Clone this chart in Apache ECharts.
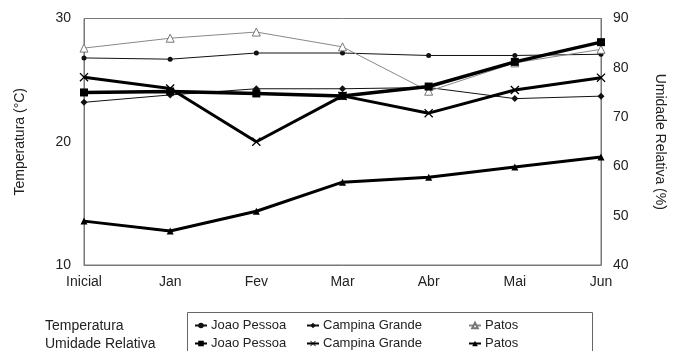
<!DOCTYPE html>
<html><head><meta charset="utf-8">
<script src="https://cdn.jsdelivr.net/npm/echarts@6/dist/echarts.min.js"></script>
<style>html,body{margin:0;padding:0;background:#fff}#c{width:675px;height:351px}</style>
</head><body><div id="c"></div>
<script>
const categories = ['Inicial','Jan','Fev','Mar','Abr','Mai','Jun'];
const tempJoaoPessoa = [26.8, 26.7, 27.2, 27.2, 27.0, 27.0, 27.1];
const tempCampinaGrande = [23.2, 23.8, 24.3, 24.3, 24.4, 23.5, 23.7];
const tempPatos = [27.6, 28.4, 28.9, 27.7, 24.1, 26.4, 27.5];
const umidJoaoPessoa = [75.0, 75.2, 74.8, 74.3, 76.2, 81.2, 85.2];
const umidCampinaGrande = [78.1, 75.8, 65.0, 74.3, 70.8, 75.5, 78.0];
const umidPatos = [48.9, 46.9, 50.9, 56.8, 57.8, 59.9, 61.9];
const tempTicks = [10, 20, 30];
const umidTicks = [40, 50, 60, 70, 80, 90];

const font = 'Liberation Sans, Arial, sans-serif';
const txt = '#222';
const crossPath = 'path://M0,1L1,0L5,4L9,0L10,1L6,5L10,9L9,10L5,6L1,10L0,9L4,5Z';

const chart = echarts.init(document.getElementById('c'));
function lg(name, left, cy) {
  return {orient:'horizontal', padding:0, itemWidth:12, itemHeight:7, itemGap:0, left:left, top:cy-7, height:14,
    textStyle:{fontFamily:font, fontSize:13, color:txt, padding:[0,0,0,-1]}, formatter: n => n.slice(2),
    selectedMode:false, data:[name]};
}
const row1 = 326, row2 = 344;
chart.setOption({
  animation:false,
  grid:{left:84, right:73, top:18.5, bottom:86, show:true, borderColor:'#777', borderWidth:1},
  textStyle:{fontFamily:font},
  xAxis:{type:'category', data:categories, boundaryGap:false,
    axisLine:{lineStyle:{color:'#777'}}, axisTick:{show:false},
    axisLabel:{fontFamily:font, fontSize:14, color:txt, margin:10}},
  yAxis:[
    {type:'value', min:tempTicks[0], max:tempTicks[tempTicks.length-1], interval:10, position:'left',
     name:'Temperatura (°C)', nameLocation:'middle', nameRotate:90, nameGap:57,
     nameTextStyle:{fontFamily:font, fontSize:14, color:txt},
     axisLine:{show:true, lineStyle:{color:'#777'}}, axisTick:{show:false}, splitLine:{show:false},
     axisLabel:{fontFamily:font, fontSize:14, color:txt, margin:13}},
    {type:'value', min:umidTicks[0], max:umidTicks[umidTicks.length-1], interval:10, position:'right',
     name:'Umidade Relativa (%)', nameLocation:'middle', nameRotate:-90, nameGap:52,
     nameTextStyle:{fontFamily:font, fontSize:14, color:txt},
     axisLine:{show:true, lineStyle:{color:'#777'}}, axisTick:{show:false}, splitLine:{show:false},
     axisLabel:{fontFamily:font, fontSize:14, color:txt, margin:12}}
  ],
  legend:[
    lg('T Joao Pessoa', 194, row1), lg('U Joao Pessoa', 194, row2),
    lg('T Campina Grande', 306, row1), lg('U Campina Grande', 306, row2),
    lg('T Patos', 468, row1), lg('U Patos', 468, row2)
  ],
  graphic:[
    {type:'rect', shape:{x:187.5, y:312.5, width:405, height:60}, style:{fill:'none', stroke:'#666', lineWidth:1}},
    {type:'text', x:45, y:row1, style:{text:'Temperatura', font:'14px '+font, fill:txt, verticalAlign:'middle'}},
    {type:'text', x:45, y:row2, style:{text:'Umidade Relativa', font:'14px '+font, fill:txt, verticalAlign:'middle'}}
  ],
  series:[
    {name:'T Joao Pessoa', type:'line', yAxisIndex:0, data:tempJoaoPessoa, symbol:'circle', symbolSize:5,
     lineStyle:{color:'#111', width:1}, itemStyle:{color:'#111'}},
    {name:'T Campina Grande', type:'line', yAxisIndex:0, data:tempCampinaGrande, symbol:'diamond', symbolSize:7,
     lineStyle:{color:'#111', width:1}, itemStyle:{color:'#111'}},
    {name:'T Patos', type:'line', yAxisIndex:0, data:tempPatos, symbol:'triangle', symbolSize:8,
     lineStyle:{color:'#888', width:1}, itemStyle:{color:'#fff', borderColor:'#777', borderWidth:1}},
    {name:'U Joao Pessoa', type:'line', yAxisIndex:1, data:umidJoaoPessoa, symbol:'rect', symbolSize:8,
     lineStyle:{color:'#000', width:3.5}, itemStyle:{color:'#000'}},
    {name:'U Campina Grande', type:'line', yAxisIndex:1, data:umidCampinaGrande, symbol:crossPath, symbolSize:9,
     lineStyle:{color:'#000', width:3}, itemStyle:{color:'#000'}},
    {name:'U Patos', type:'line', yAxisIndex:1, data:umidPatos, symbol:'triangle', symbolSize:7,
     lineStyle:{color:'#000', width:3}, itemStyle:{color:'#000'}}
  ]
});
</script></body></html>
